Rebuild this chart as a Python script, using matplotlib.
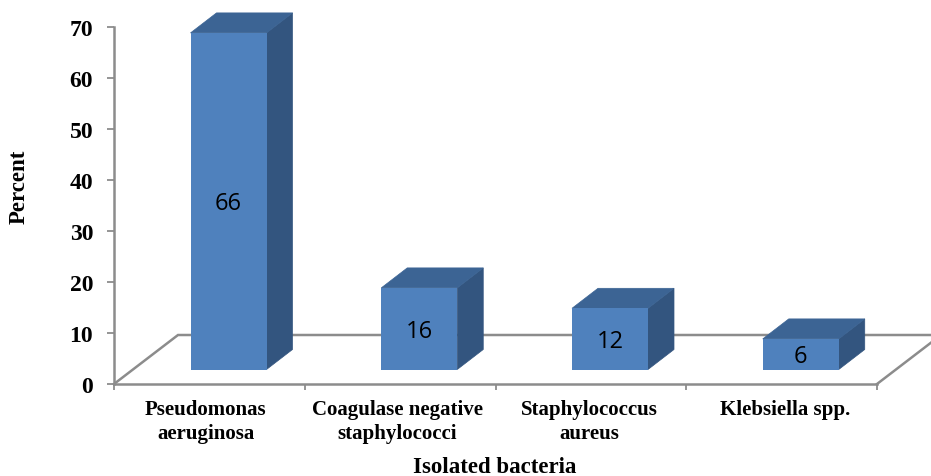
import matplotlib
matplotlib.use('Agg')
import matplotlib.pyplot as plt
from matplotlib.patches import Polygon

categories = ['Pseudomonas\naeruginosa', 'Coagulase negative\nstaphylococci',
              'Staphylococcus\naureus', 'Klebsiella spp.']
percent = [66, 16, 12, 6]
y_ticks = [0, 10, 20, 30, 40, 50, 60, 70]

W, H = 931, 477
FRONT = '#4F81BD'
TOP = '#3C6494'
SIDE = '#33557F'
GREY = '#8C8C8C'

fig = plt.figure(figsize=(W / 100, H / 100), dpi=100)
# axes box is the front floor edge + the value axis, in pixels
ax = fig.add_axes([114 / W, 1 - 385 / H, (877 - 114) / W, (385 - 28) / H])
ax.set_xlim(0, 4)
ax.set_ylim(0, 70)
ax.patch.set_alpha(0)

px_x = 4 / (877 - 114)
px_y = 70 / (385 - 28)

# 3d offsets (floor depth, bar depth, bar position on the floor)
floor_dx, floor_dy = 64 * px_x, 49 * px_y
bar_dx, bar_dy = 26 * px_x, 20 * px_y
base = 14.5 * px_y
bar_w = 76 * px_x
shift = 76.5 * px_x

# floor
end_x = 4.29
ax.plot([0, floor_dx, end_x], [0, floor_dy, floor_dy], color=GREY, lw=1.8, clip_on=False, zorder=1,
        solid_joinstyle='miter')
ax.plot([4, 4 + floor_dx * 0.85], [0, floor_dy * 0.85], color=GREY, lw=1.8, clip_on=False, zorder=1)

# bars
for i, v in enumerate(percent):
    x0 = i + shift
    x1 = x0 + bar_w
    top = base + v
    ax.bar(x0, v, width=bar_w, bottom=base, align='edge', color=FRONT, edgecolor='none',
           clip_on=False, zorder=3)
    ax.add_patch(Polygon([(x1, base), (x1 + bar_dx, base + bar_dy), (x1 + bar_dx, top + bar_dy), (x1, top)],
                         closed=True, facecolor=SIDE, edgecolor=SIDE, lw=0.5, clip_on=False, zorder=2.5))
    ax.add_patch(Polygon([(x0, top), (x0 + bar_dx, top + bar_dy), (x1 + bar_dx, top + bar_dy), (x1, top)],
                         closed=True, facecolor=TOP, edgecolor=TOP, lw=0.5, clip_on=False, zorder=2.5))
    ax.text(x0 + bar_w / 2, base + v / 2 - 2 * px_y, str(v), ha='center', va='center', fontsize=17,
            family='Open Sans', color='black', zorder=4)

for s in ['top', 'right']:
    ax.spines[s].set_visible(False)
for s in ['left', 'bottom']:
    ax.spines[s].set_color(GREY)
    ax.spines[s].set_linewidth(1.8)

ax.set_yticks(y_ticks)
ax.set_yticklabels([str(t) for t in y_ticks], family='Liberation Serif', fontweight='bold', fontsize=17)
ax.tick_params(axis='y', length=5, width=1.3, color=GREY, pad=10)
ax.set_xticks(range(5))
ax.set_xticklabels([])
ax.tick_params(axis='x', length=4, width=1.3, color=GREY)

# label centres in pixels, they don't sit exactly mid-way between the ticks
label_px = [205.5, 397.5, 589, 785]
for px, c in zip(label_px, categories):
    fig.text(px / W, 1 - 400 / H, c, ha='center', va='top', linespacing=1.27,
             family='Liberation Serif', fontweight='bold', fontsize=15)

fig.text(495 / W, 1 - 473 / H, 'Isolated bacteria', ha='center', va='baseline',
         family='Liberation Serif', fontweight='bold', fontsize=16.5)
fig.text(19 / W, 1 - 187 / H, 'Percent', rotation=90, ha='center', va='center',
         family='Liberation Serif', fontweight='bold', fontsize=16.5)

fig.savefig('out.png', dpi=100)
